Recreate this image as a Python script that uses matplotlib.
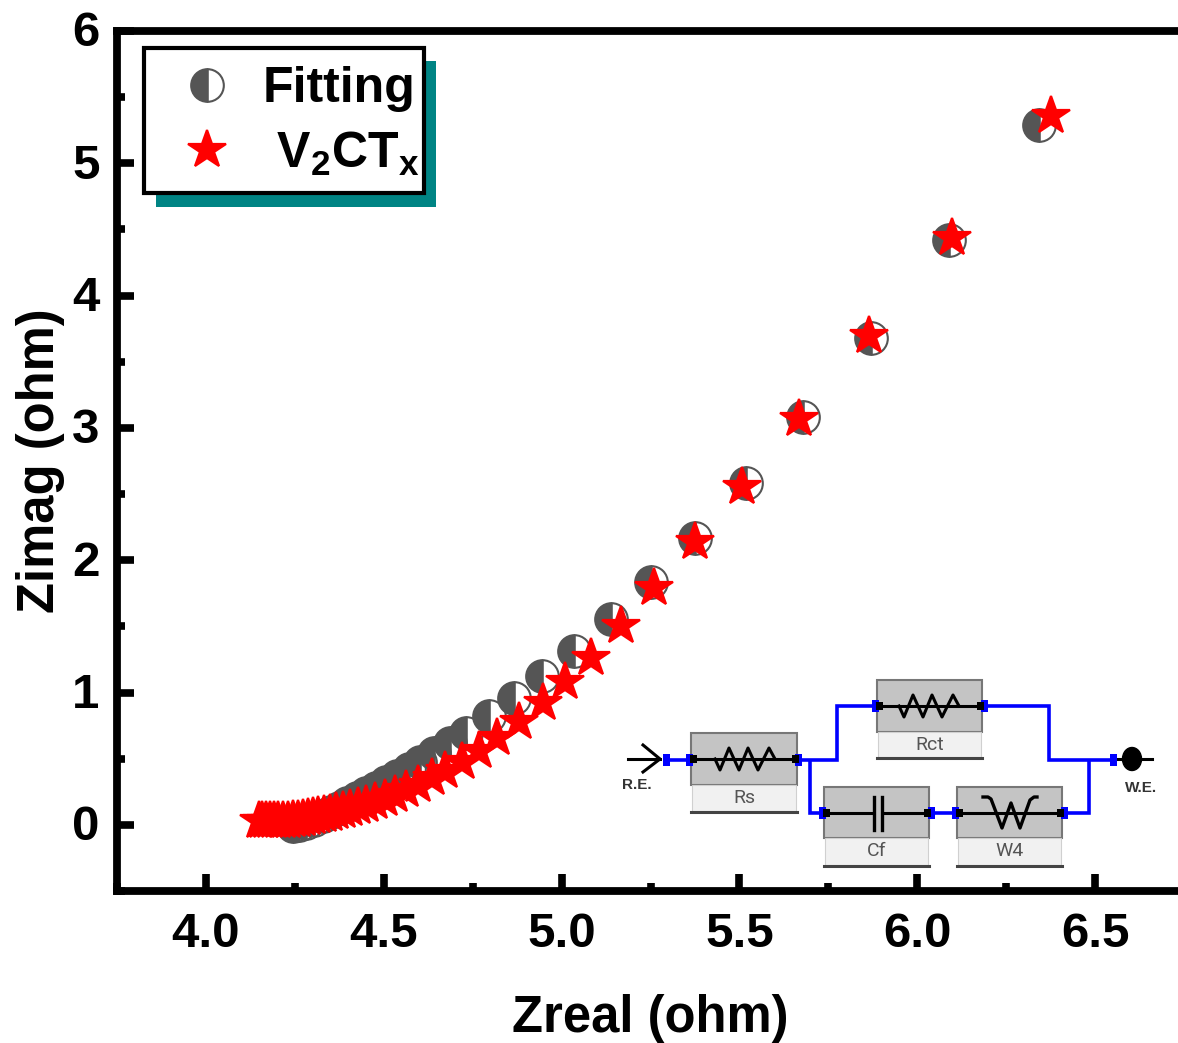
import matplotlib
matplotlib.use("Agg")
import matplotlib.pyplot as plt
from matplotlib.patches import Rectangle, Ellipse
from matplotlib.ticker import MultipleLocator
from matplotlib.transforms import ScaledTranslation

plt.rcParams['font.family'] = ['Liberation Sans', 'DejaVu Sans']
plt.rcParams['font.weight'] = 'bold'
plt.rcParams['axes.labelweight'] = 'bold'
plt.rcParams['mathtext.fontset'] = 'custom'
plt.rcParams['mathtext.bf'] = 'Liberation Sans:bold'
plt.rcParams['mathtext.rm'] = 'Liberation Sans:bold'
plt.rcParams['mathtext.default'] = 'regular'

fit_x = [4.244, 4.261, 4.281, 4.303, 4.328, 4.351, 4.373, 4.398, 4.424, 4.449, 4.477, 4.505, 4.536,
         4.570, 4.603, 4.640, 4.687, 4.732, 4.797, 4.867, 4.946, 5.035, 5.139, 5.251, 5.375, 5.518,
         5.678, 5.871, 6.090, 6.343]
fit_y = [-0.008, 0.000, 0.015, 0.038, 0.068, 0.098, 0.129, 0.166, 0.204, 0.242, 0.280, 0.325, 0.371,
         0.424, 0.477, 0.545, 0.620, 0.696, 0.825, 0.960, 1.127, 1.316, 1.558, 1.838, 2.170, 2.580,
         3.086, 3.680, 4.420, 5.290]

obs_x = [4.150, 4.158, 4.170, 4.181, 4.192, 4.203, 4.217, 4.231, 4.245, 4.259, 4.273, 4.287, 4.301,
         4.315, 4.332, 4.349, 4.366, 4.386, 4.405, 4.428, 4.450, 4.475, 4.503, 4.531, 4.562, 4.596,
         4.635, 4.672, 4.719, 4.767, 4.818, 4.879, 4.947, 5.011, 5.084, 5.168, 5.261, 5.376, 5.508,
         5.668, 5.864, 6.097, 6.376]
obs_y = [0.028, 0.030, 0.030, 0.030, 0.030, 0.030, 0.030, 0.030, 0.034, 0.038, 0.045, 0.053, 0.061,
         0.068, 0.076, 0.083, 0.095, 0.106, 0.121, 0.136, 0.151, 0.174, 0.197, 0.227, 0.265, 0.303,
         0.356, 0.408, 0.477, 0.560, 0.658, 0.779, 0.918, 1.076, 1.263, 1.505, 1.790, 2.140, 2.555,
         3.068, 3.695, 4.435, 5.355]

x_ticks = [4.0, 4.5, 5.0, 5.5, 6.0, 6.5]
y_ticks = [0, 1, 2, 3, 4, 5, 6]
fit_label = "Fitting"
obs_label = " V$_\\mathbf{2}$CT$_\\mathbf{x}$"

W, H = 1178, 1043
fig = plt.figure(figsize=(W / 100, H / 100), dpi=100)
ax = fig.add_axes([117 / W, 1 - 891 / H, (1184 - 117) / W, (891 - 31) / H])

GREY = '#555555'
ax.plot(fit_x, fit_y, ls='none', marker='o', ms=23.5, mew=1.5, mec=GREY, mfc=GREY,
        markerfacecoloralt='none', fillstyle='left', label=fit_label, zorder=3)
ax.plot(obs_x, obs_y, ls='none', marker='*', ms=29, mew=1.6, mec='#ff0000', color='#ff0000',
        label=obs_label, zorder=4)

ax.set_xlim(3.75, 6.75)
ax.set_ylim(-0.5, 6)
ax.set_xticks(x_ticks)
ax.set_yticks(y_ticks)
ax.set_xticklabels([f"{v:.1f}" for v in x_ticks])
ax.xaxis.set_minor_locator(MultipleLocator(0.25))
ax.yaxis.set_minor_locator(MultipleLocator(0.5))
ax.tick_params(which='major', direction='in', length=12.2, width=5.5, labelsize=35.5, pad=15)
ax.tick_params(which='minor', direction='in', length=5.8, width=5.5)
ax.tick_params(axis='y', pad=12.5)
for lab in ax.get_yticklabels():
    lab.set_transform(lab.get_transform() + ScaledTranslation(0, 2 / 100, fig.dpi_scale_trans))
for s in ax.spines.values():
    s.set_linewidth(5.6)
ax.set_xlabel("Zreal (ohm)", fontsize=36.5, labelpad=26.5)
ax.set_ylabel("Zimag (ohm)", fontsize=36.5, labelpad=5)

# Legend frame and its teal offset block, in picture pixels
ftr = fig.transFigure
ax.add_patch(Rectangle((156 / W, 1 - 207 / H), 280 / W, 146 / H, transform=ftr, fc='#008484', ec='none',
                       clip_on=False, zorder=8))
ax.add_patch(Rectangle((144 / W, 1 - 193 / H), 280 / W, 145 / H, transform=ftr, fc='white', ec='black', lw=3,
                       clip_on=False, zorder=9))
leg = ax.legend(loc='upper left', bbox_to_anchor=(151 / W, 1 - 66 / H), bbox_transform=ftr,
                borderaxespad=0, fontsize=36, frameon=False, borderpad=0, handlelength=2.24,
                handletextpad=0, labelspacing=0.35, numpoints=1)
leg.set_zorder(10)

# Equivalent-circuit schematic, drawn in picture pixels
c = fig.add_axes([0, 0, 1, 1], facecolor='none')
c.set_xlim(0, W)
c.set_ylim(H, 0)
c.axis('off')
BLUE = '#0000ff'


def wire(xs, ys):
    c.plot(xs, ys, color=BLUE, lw=2.6, solid_joinstyle='miter', solid_capstyle='butt', zorder=3)


def node(x, y, col=BLUE, w=7, h=12):
    c.add_patch(Rectangle((x - w / 2, y - h / 2), w, h, color=col, lw=0, zorder=6))


def box(x0, y0, x1, ymid, y1, label):
    c.add_patch(Rectangle((x0, y0), x1 - x0, ymid - y0, fc='#c4c4c4', ec='#777777', lw=1.5, zorder=2))
    c.add_patch(Rectangle((x0 + 1, ymid), x1 - x0 - 2, y1 - ymid, fc='#f1f1f1', ec='#d0d0d0', lw=0.8, zorder=2))
    c.plot([x0, x1], [y1 + 0.5, y1 + 0.5], color='#444444', lw=2.2, zorder=3)
    c.text((x0 + x1) / 2, (ymid + y1) / 2, label, ha='center', va='center', fontsize=14,
           fontweight='normal', family='Roboto', color='#555555', zorder=7)


def black_wire(x0, x1, y):
    c.plot([x0, x1], [y, y], color='black', lw=2.2, zorder=4, solid_capstyle='butt')
    node(x0 + 2, y, 'black', 7, 8)
    node(x1 - 2, y, 'black', 7, 8)


def resistor(cx, y):
    dx = [-30, -25, -16, -6, 3, 13, 24, 30]
    dy = [0, 11, -11, 11, -11, 11, -11, 0]
    c.plot([cx + a for a in dx], [y + b for b in dy], color='black', lw=2.2, zorder=5)


wire([665, 691], [760, 760])
wire([797, 837, 837, 877], [760, 760, 706, 706])
wire([982, 1049, 1049, 1115], [706, 706, 760, 760])
wire([810, 810, 824], [760, 813, 813])
wire([929, 957], [813, 813])
wire([1062, 1089, 1089], [813, 813, 760])

box(691, 733, 797, 785, 811, 'Rs')
box(877, 680, 982, 732, 757, 'Rct')
box(824, 787, 929, 838, 865, 'Cf')
box(957, 787, 1062, 838, 865, 'W4')

for x, y in [(666, 760), (689, 760), (798, 760), (875, 706), (984, 706), (822, 813), (931, 813),
             (955, 813), (1064, 813), (1113, 760)]:
    node(x, y)

black_wire(691, 797, 759)
black_wire(877, 982, 706)
black_wire(824, 929, 813)
black_wire(957, 1062, 813)
resistor(745, 759)
resistor(929, 706)

# capacitor: gap between plates
c.add_patch(Rectangle((874, 810), 8, 6, fc='#c4c4c4', lw=0, zorder=5))
c.plot([874, 874], [797, 830], color='black', lw=2.4, zorder=6)
c.plot([882, 882], [797, 830], color='black', lw=2.4, zorder=6)

# Warburg element
c.plot([983, 988, 991, 1002, 1011, 1020, 1030, 1034, 1037], [797, 797, 799, 828, 803, 828, 800, 797, 797],
       color='black', lw=2.4, zorder=5)

# reference electrode and working electrode
c.plot([628, 660], [759, 759], color='black', lw=2.2, zorder=5)
c.plot([643, 660, 643], [745, 759, 772], color='black', lw=2.2, zorder=5)
c.add_patch(Ellipse((1132, 759), 19, 23, color='black', zorder=5))
c.plot([1118, 1152], [759, 759], color='black', lw=2.2, zorder=4)
c.text(637, 785, 'R.E.', ha='center', va='center', fontsize=11, color='#333333', zorder=7)
c.text(1141, 788, 'W.E.', ha='center', va='center', fontsize=11, color='#333333', zorder=7)

fig.savefig('out.png', dpi=100)
